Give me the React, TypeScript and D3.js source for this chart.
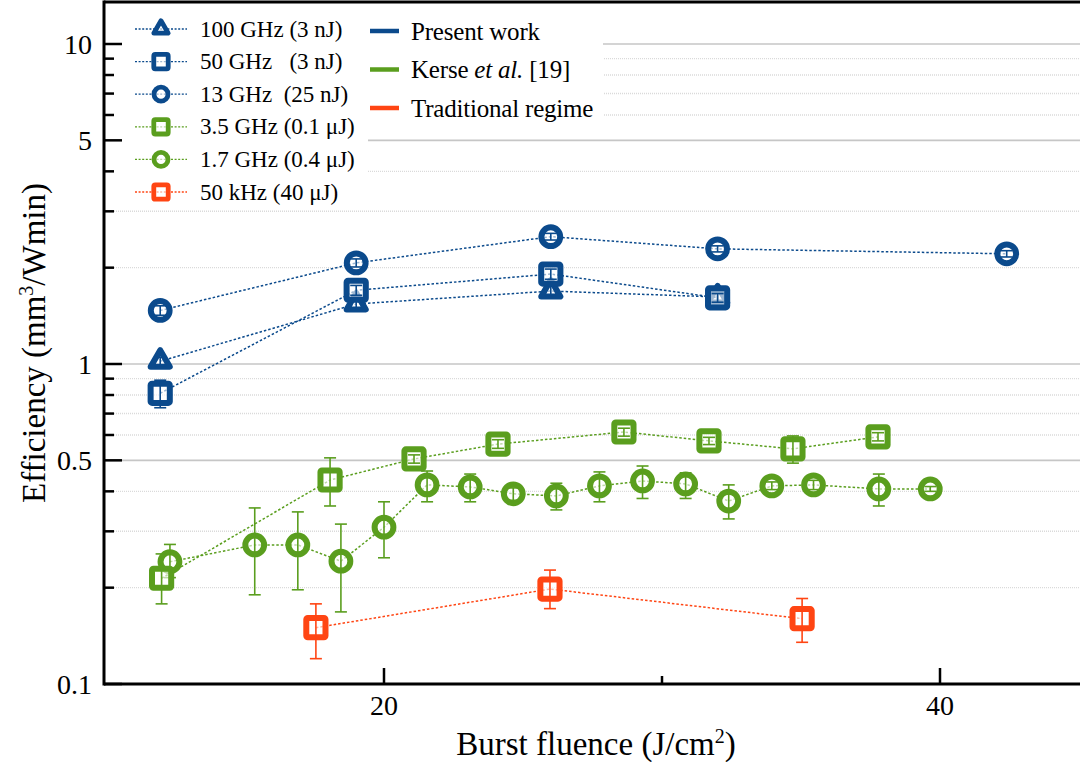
import React from "react";
import * as d3 from "d3";

// burst fluence (J/cm2) and efficiency (mm3/Wmin)
const f100 = [11.95, 19.0, 26.0, 32.0];
const e100 = [1.02, 1.54, 1.69, 1.62];
const d100 = [0.03, 0.05, 0.06, 0.05];

const f50 = [11.95, 19.0, 26.0, 32.0];
const e50 = [0.81, 1.7, 1.91, 1.61];
const d50 = [0.08, 0.06, 0.07, 0.05];

const f13 = [11.95, 19.0, 26.0, 32.0, 42.4];
const e13 = [1.47, 2.07, 2.5, 2.29, 2.21];
const d13 = [0.05, 0.06, 0.06, 0.05, 0.05];

const f35 = [12.0, 18.06, 21.08, 24.1, 28.63, 31.69, 34.71, 37.77];
const e35 = [0.214, 0.434, 0.505, 0.562, 0.613, 0.575, 0.543, 0.592];
const lo35 = [0.178, 0.36, 0.49, 0.545, 0.595, 0.56, 0.49, 0.575];
const hi35 = [0.255, 0.509, 0.52, 0.58, 0.63, 0.59, 0.596, 0.61];

const f17 = [12.3, 15.35, 16.9, 18.45, 20.0, 21.55, 23.1, 24.65, 26.2, 27.75, 29.3, 30.85, 32.4, 33.95, 35.45, 37.8, 39.65];
const e17 = [0.241, 0.272, 0.272, 0.242, 0.309, 0.419, 0.413, 0.393, 0.387, 0.416, 0.431, 0.422, 0.373, 0.416, 0.419, 0.407, 0.407];
const lo17 = [0.215, 0.19, 0.197, 0.168, 0.248, 0.371, 0.371, 0.375, 0.35, 0.371, 0.38, 0.38, 0.328, 0.405, 0.405, 0.36, 0.4];
const hi17 = [0.273, 0.355, 0.345, 0.316, 0.371, 0.463, 0.453, 0.41, 0.424, 0.46, 0.48, 0.457, 0.419, 0.428, 0.433, 0.453, 0.414];

const f50k = [17.55, 25.97, 35.04];
const e50k = [0.15, 0.198, 0.16];
const lo50k = [0.12, 0.172, 0.135];
const hi50k = [0.178, 0.227, 0.185];

const legendLabels = ["100 GHz (3 nJ)", "50 GHz   (3 nJ)", "13 GHz  (25 nJ)", "3.5 GHz (0.1 μJ)", "1.7 GHz (0.4 μJ)", "50 kHz (40 μJ)"];
const groupLabels = ["Present work", "Kerse", "Traditional regime"];

const yMajor = [0.1, 0.5, 1, 5, 10];
const xMajor = [20, 40];
const xMinor = [30];

const BLUE = "#0b4a8c";
const GREEN = "#5a9e1e";
const RED = "#ff4513";
const FONT = "'Liberation Serif', 'Times New Roman', serif";

const W = 1080;
const H = 762;
const left = 104;
const top = 2;
const bottom = 684;

const x = d3.scaleLinear().domain([20, 40]).range([384, 940]);
const y = d3.scaleLog().domain([0.1, 10]).range([bottom, 44]);

type Series = {
  xs: number[];
  ys: number[];
  lo: number[];
  hi: number[];
  color: string;
  shape: "tri" | "sq" | "circ";
};

const sym = (e: number[], d: number[]) => e.map((v, i) => v - d[i]);
const symHi = (e: number[], d: number[]) => e.map((v, i) => v + d[i]);

const series: Series[] = [
  { xs: f17, ys: e17, lo: lo17, hi: hi17, color: GREEN, shape: "circ" },
  { xs: f35, ys: e35, lo: lo35, hi: hi35, color: GREEN, shape: "sq" },
  { xs: f50k, ys: e50k, lo: lo50k, hi: hi50k, color: RED, shape: "sq" },
  { xs: f13, ys: e13, lo: sym(e13, d13), hi: symHi(e13, d13), color: BLUE, shape: "circ" },
  { xs: f100, ys: e100, lo: sym(e100, d100), hi: symHi(e100, d100), color: BLUE, shape: "tri" },
  { xs: f50, ys: e50, lo: sym(e50, d50), hi: symHi(e50, d50), color: BLUE, shape: "sq" },
];

const Marker = ({ cx, cy, shape, color, s, sw }: { cx: number; cy: number; shape: string; color: string; s: number; sw: number }) => {
  if (shape === "circ")
    return <circle cx={cx} cy={cy} r={s} fill="white" fillOpacity={0.6} stroke={color} strokeWidth={sw} />;
  if (shape === "sq")
    return <rect x={cx - s} y={cy - s} width={2 * s} height={2 * s} rx={1.5} fill="white" fillOpacity={0.6} stroke={color} strokeWidth={sw} />;
  const r = s * 1.15;
  const p = `M${cx},${cy - r} L${cx + r * 0.866},${cy + r * 0.5} L${cx - r * 0.866},${cy + r * 0.5} Z`;
  return <path d={p} fill="white" fillOpacity={0.6} stroke={color} strokeWidth={sw} strokeLinejoin="round" />;
};

const App = () => {
  const xRight = W + 5;

  const gridVals: number[] = [];
  [0.1, 1, 10].forEach((dec) => {
    for (let k = 1; k <= 9; k++) {
      const v = +(k * dec).toPrecision(3);
      const py = y(v);
      if (py >= top && py <= bottom) gridVals.push(v);
    }
  });

  const legendMarks: { shape: string; color: string }[] = [
    { shape: "tri", color: BLUE },
    { shape: "sq", color: BLUE },
    { shape: "circ", color: BLUE },
    { shape: "sq", color: GREEN },
    { shape: "circ", color: GREEN },
    { shape: "sq", color: RED },
  ];
  const groupColors = [BLUE, GREEN, RED];

  return (
    <div style={{ position: "fixed", left: 0, top: 0 }}>
      <svg width={W} height={H} style={{ display: "block", background: "white" }} fontFamily={FONT}>
        {/* grid */}
        {gridVals.map((v) => {
          const solid = yMajor.includes(v);
          if (v === 0.1) return null;
          return (
            <line
              key={"g" + v}
              x1={left}
              x2={xRight}
              y1={y(v)}
              y2={y(v)}
              stroke={solid ? "#c6c6c6" : "#dadada"}
              strokeWidth={solid ? 1.6 : 1.4}
              strokeDasharray={solid ? undefined : "1,1"}
            />
          );
        })}

        {/* series */}
        {series.map((s, si) => {
          const pts = s.xs.map((fx, i) => [x(fx), y(s.ys[i])] as [number, number]);
          const path = d3.line()(pts) || "";
          return (
            <g key={"s" + si}>
              <path d={path} fill="none" stroke={s.color} strokeWidth={1.5} strokeDasharray="2.5,2" />
              {pts.map(([px, py], i) => (
                <Marker key={i} cx={px} cy={py} shape={s.shape} color={s.color} s={s.shape === "circ" ? 9.4 : 9.6} sw={6} />
              ))}
              {pts.map(([px], i) => {
                const y1 = y(s.lo[i]);
                const y2 = y(s.hi[i]);
                return (
                  <g key={"e" + i} stroke={s.color} strokeWidth={1.6}>
                    <line x1={px} x2={px} y1={y1} y2={y2} />
                    <line x1={px - 6} x2={px + 6} y1={y1} y2={y1} />
                    <line x1={px - 6} x2={px + 6} y1={y2} y2={y2} />
                  </g>
                );
              })}
            </g>
          );
        })}

        {/* legend boxes */}
        <rect x={left + 2} y={top + 3} width={262} height={200} fill="white" />
        <rect x={368} y={top + 3} width={235} height={120} fill="white" />
        {legendLabels.map((lab, i) => {
          const ly = 29 + i * 32.6;
          const m = legendMarks[i];
          return (
            <g key={"l" + i}>
              <line x1={135} x2={187} y1={ly} y2={ly} stroke={m.color} strokeWidth={1.3} strokeDasharray="2,1.6" />
              <Marker cx={161} cy={ly} shape={m.shape} color={m.color} s={m.shape === "circ" ? 7 : 7.2} sw={4.8} />
              <text x={200} y={ly + 7.5} fontSize={23} style={{ whiteSpace: "pre" }}>
                {lab}
              </text>
            </g>
          );
        })}
        {groupLabels.map((lab, i) => {
          const ly = 31 + i * 38.5;
          return (
            <g key={"gl" + i}>
              <line x1={370} x2={399} y1={ly} y2={ly} stroke={groupColors[i]} strokeWidth={4.5} />
              <text x={411} y={ly + 8.5} fontSize={25} letterSpacing={-0.2}>
                {i === 1 ? (
                  <>
                    Kerse <tspan fontStyle="italic">et al.</tspan> [19]
                  </>
                ) : (
                  lab
                )}
              </text>
            </g>
          );
        })}

        {/* frame */}
        <line x1={left} x2={xRight} y1={top} y2={top} stroke="black" strokeWidth={3} />
        <line x1={left} x2={left} y1={top - 1.5} y2={bottom + 1.5} stroke="black" strokeWidth={3} />
        <line x1={left} x2={xRight} y1={bottom} y2={bottom} stroke="black" strokeWidth={3} />

        {/* y ticks */}
        {gridVals.map((v) => {
          const major = yMajor.includes(v);
          return (
            <line key={"t" + v} x1={left} x2={left + (major ? 18 : 10)} y1={y(v)} y2={y(v)} stroke="black" strokeWidth={2.5} />
          );
        })}
        {yMajor.map((v) => (
          <text key={"yl" + v} x={92} y={y(v) + 9.5} fontSize={28} textAnchor="end">
            {String(v)}
          </text>
        ))}

        {/* x ticks */}
        {xMajor.map((v) => (
          <g key={"xt" + v}>
            <line x1={x(v)} x2={x(v)} y1={bottom} y2={bottom - 16} stroke="black" strokeWidth={2.5} />
            <text x={x(v)} y={715} fontSize={28} textAnchor="middle">
              {v}
            </text>
          </g>
        ))}
        {xMinor.map((v) => (
          <line key={"xm" + v} x1={x(v)} x2={x(v)} y1={bottom} y2={bottom - 8} stroke="black" strokeWidth={2.5} />
        ))}

        {/* axis titles */}
        <text x={596} y={755} fontSize={33} textAnchor="middle">
          Burst fluence (J/cm<tspan dy={-12} fontSize={20}>2</tspan>
          <tspan dy={12}>)</tspan>
        </text>
        <text transform="translate(45,343) rotate(-90)" fontSize={33} textAnchor="middle">
          Efficiency (mm<tspan dy={-12} fontSize={20}>3</tspan>
          <tspan dy={12}>/Wmin)</tspan>
        </text>
      </svg>
    </div>
  );
};

export default App;
